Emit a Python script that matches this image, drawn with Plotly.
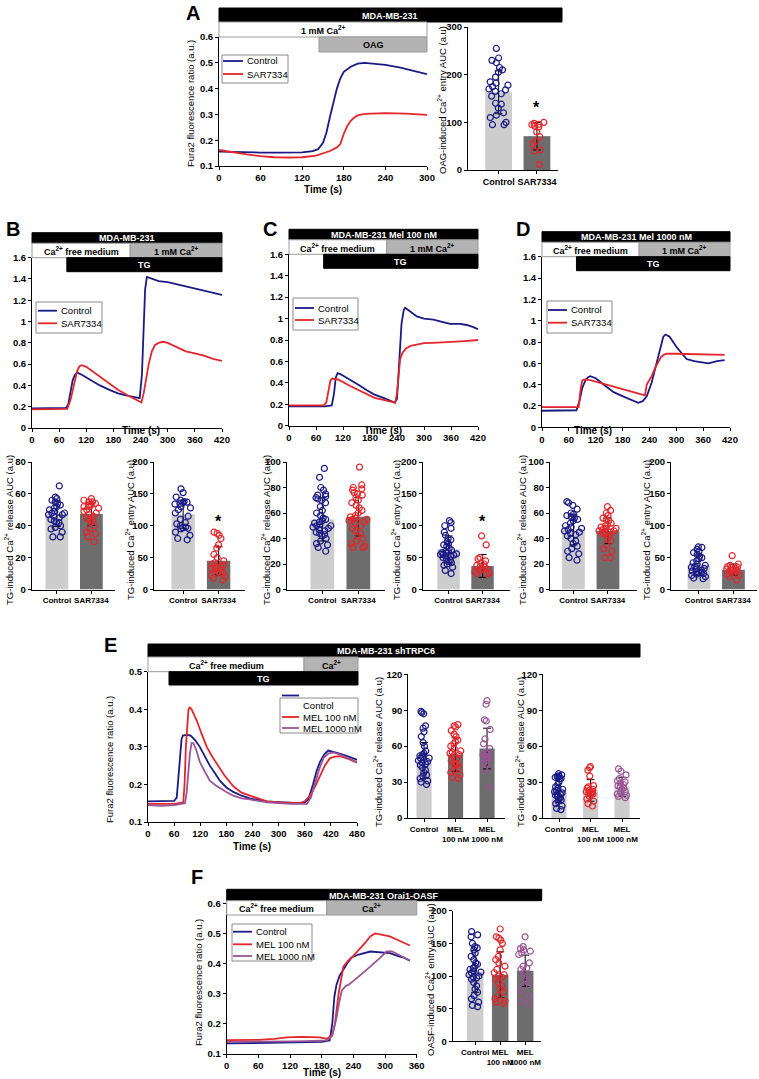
import plotly.graph_objects as go

W, H = 759, 1079
BOLDF = "Liberation Sans, Arial, sans-serif"
REG = "Liberation Sans, Arial, sans-serif"

NAVY = "#1b1a85"
RED = "#e3262b"
PURPLE = "#9a5596"
LGRAY = "#cdcdcd"
DGRAY = "#6d6d6d"

# ---------------- DATA ----------------
# Panel A traces (time s, Fura2 ratio)
A_t_ctrl = [0, 20, 40, 60, 80, 100, 120, 135, 143, 150, 155, 160, 165, 170, 175, 180, 190, 200, 210, 220, 240, 260, 280, 300]
A_ctrl = [0.156, 0.154, 0.153, 0.152, 0.152, 0.152, 0.153, 0.158, 0.165, 0.19, 0.23, 0.29, 0.35, 0.40, 0.44, 0.465, 0.485, 0.497, 0.500, 0.498, 0.492, 0.482, 0.468, 0.456]
A_t_sar = [0, 20, 40, 60, 80, 100, 120, 140, 150, 160, 170, 175, 180, 185, 190, 195, 200, 210, 240, 270, 300]
A_sar = [0.162, 0.153, 0.145, 0.138, 0.134, 0.133, 0.134, 0.140, 0.148, 0.158, 0.172, 0.185, 0.225, 0.255, 0.275, 0.288, 0.296, 0.302, 0.305, 0.303, 0.298]

# Panel B
B_t_ctrl = [0, 40, 75, 80, 85, 90, 95, 100, 110, 130, 150, 170, 190, 210, 230, 238, 243, 247, 250, 254, 265, 280, 300, 320, 340, 360, 380, 400, 420]
B_ctrl = [0.185, 0.185, 0.19, 0.22, 0.33, 0.45, 0.50, 0.52, 0.50, 0.45, 0.40, 0.36, 0.325, 0.305, 0.29, 0.28, 0.50, 1.00, 1.30, 1.42, 1.40, 1.38, 1.37, 1.35, 1.33, 1.31, 1.29, 1.27, 1.25]
B_t_sar = [0, 40, 78, 85, 90, 95, 100, 105, 110, 120, 135, 150, 170, 190, 210, 225, 242, 247, 252, 258, 265, 272, 280, 290, 300, 320, 340, 360, 380, 400, 420]
B_sar = [0.175, 0.175, 0.18, 0.26, 0.36, 0.46, 0.54, 0.58, 0.59, 0.575, 0.53, 0.48, 0.42, 0.36, 0.31, 0.28, 0.24, 0.33, 0.45, 0.60, 0.72, 0.78, 0.80, 0.81, 0.80, 0.76, 0.72, 0.70, 0.68, 0.65, 0.63]

# Panel C
C_t_ctrl = [0, 40, 80, 95, 100, 104, 108, 115, 136, 155, 173, 190, 210, 225, 235, 240, 245, 250, 255, 258, 265, 284, 300, 321, 340, 358, 380, 395, 410, 420]
C_ctrl = [0.18, 0.18, 0.18, 0.19, 0.30, 0.45, 0.49, 0.48, 0.43, 0.38, 0.33, 0.29, 0.26, 0.235, 0.215, 0.25, 0.60, 0.95, 1.08, 1.10, 1.08, 1.02, 1.00, 0.99, 0.97, 0.95, 0.95, 0.94, 0.92, 0.90]
C_t_sar = [0, 40, 78, 83, 88, 92, 96, 110, 136, 155, 173, 190, 210, 225, 236, 240, 244, 247, 252, 260, 270, 285, 300, 330, 360, 390, 420]
C_sar = [0.19, 0.19, 0.19, 0.22, 0.35, 0.42, 0.44, 0.43, 0.37, 0.33, 0.29, 0.26, 0.24, 0.225, 0.215, 0.30, 0.50, 0.62, 0.68, 0.72, 0.745, 0.76, 0.77, 0.775, 0.78, 0.79, 0.80]

# Panel D
D_t_ctrl = [0, 40, 77, 84, 90, 97, 103, 108, 120, 144, 160, 181, 200, 215, 225, 234, 245, 256, 265, 271, 276, 285, 301, 312, 323, 340, 353, 372, 391, 408]
D_ctrl = [0.155, 0.155, 0.16, 0.25, 0.37, 0.44, 0.47, 0.48, 0.46, 0.38, 0.33, 0.29, 0.255, 0.23, 0.245, 0.29, 0.42, 0.60, 0.76, 0.85, 0.87, 0.85, 0.75, 0.69, 0.64, 0.62, 0.61, 0.60, 0.62, 0.63]
D_t_sar = [0, 40, 82, 86, 90, 95, 110, 144, 170, 204, 230, 234, 240, 245, 252, 260, 266, 272, 278, 300, 340, 380, 408]
D_sar = [0.19, 0.19, 0.19, 0.35, 0.44, 0.45, 0.44, 0.40, 0.37, 0.33, 0.30, 0.40, 0.44, 0.48, 0.55, 0.62, 0.66, 0.68, 0.69, 0.69, 0.685, 0.68, 0.68]

# Panel E
E_t_ctrl = [0, 30, 60, 66, 70, 73, 77, 80, 90, 98, 108, 119, 130, 142, 155, 165, 180, 196, 215, 234, 255, 273, 300, 330, 349, 360, 368, 379, 387, 395, 405, 414, 425, 440, 456, 470, 480]
E_ctrl = [0.155, 0.155, 0.156, 0.165, 0.22, 0.28, 0.32, 0.33, 0.332, 0.33, 0.318, 0.30, 0.275, 0.25, 0.228, 0.21, 0.192, 0.18, 0.17, 0.163, 0.158, 0.155, 0.153, 0.152, 0.15, 0.152, 0.16, 0.2, 0.235, 0.26, 0.28, 0.29, 0.287, 0.282, 0.276, 0.27, 0.266]
E_t_m100 = [0, 30, 60, 81, 84, 87, 90, 93, 96, 100, 106, 112, 123, 135, 147, 158, 175, 196, 215, 234, 255, 273, 300, 330, 349, 360, 372, 384, 395, 406, 418, 430, 441, 460, 480]
E_m100 = [0.148, 0.148, 0.148, 0.152, 0.20, 0.30, 0.37, 0.40, 0.405, 0.40, 0.385, 0.37, 0.335, 0.30, 0.275, 0.255, 0.225, 0.195, 0.178, 0.17, 0.162, 0.155, 0.152, 0.151, 0.15, 0.155, 0.17, 0.195, 0.225, 0.25, 0.27, 0.274, 0.275, 0.268, 0.258]
E_t_m1000 = [0, 30, 60, 85, 89, 92, 96, 100, 104, 110, 119, 130, 142, 155, 165, 180, 196, 215, 234, 255, 273, 300, 330, 365, 374, 383, 393, 403, 414, 425, 440, 460, 480]
E_m1000 = [0.145, 0.143, 0.145, 0.15, 0.18, 0.22, 0.28, 0.31, 0.31, 0.295, 0.26, 0.235, 0.21, 0.198, 0.19, 0.18, 0.17, 0.163, 0.16, 0.155, 0.152, 0.15, 0.148, 0.148, 0.165, 0.2, 0.24, 0.27, 0.282, 0.285, 0.28, 0.27, 0.26]

# Panel F traces
F_t_ctrl = [0, 30, 60, 90, 120, 150, 180, 195, 200, 204, 208, 214, 221, 230, 237, 250, 272, 290, 309, 325, 335, 347]
F_ctrl = [0.135, 0.136, 0.137, 0.138, 0.138, 0.139, 0.14, 0.145, 0.2, 0.29, 0.33, 0.36, 0.38, 0.405, 0.42, 0.43, 0.44, 0.438, 0.435, 0.425, 0.42, 0.41]
F_t_m100 = [0, 30, 60, 90, 114, 140, 160, 177, 190, 200, 205, 212, 221, 230, 237, 253, 263, 272, 281, 295, 309, 322, 335, 347]
F_m100 = [0.146, 0.146, 0.147, 0.15, 0.155, 0.157, 0.156, 0.155, 0.15, 0.165, 0.2, 0.3, 0.39, 0.41, 0.42, 0.45, 0.47, 0.49, 0.50, 0.495, 0.49, 0.48, 0.47, 0.46]
F_t_m1000 = [0, 30, 60, 90, 120, 150, 180, 190, 200, 208, 213, 218, 225, 231, 242, 253, 262, 272, 282, 291, 303, 313, 325, 335, 347]
F_m1000 = [0.14, 0.14, 0.141, 0.142, 0.142, 0.143, 0.144, 0.145, 0.16, 0.22, 0.27, 0.31, 0.325, 0.33, 0.345, 0.36, 0.375, 0.39, 0.405, 0.42, 0.44, 0.44, 0.43, 0.42, 0.41]

# Bar charts: means, SD, individual points
A_bar_cats = ["Control", "SAR7334"]
A_bar_mean = [163, 71]
A_bar_sd = [45, 29]
A_pts_ctrl = [255, 235, 230, 225, 215, 210, 205, 195, 185, 182, 178, 175, 170, 168, 165, 160, 155, 140, 138, 130, 120, 115, 110, 100, 95, 95]
A_pts_sar = [100, 98, 96, 95, 92, 90, 80, 70, 60, 55, 42, 40, 12]

B_rel_mean = [47.5, 47.3]
B_rel_sd = [8, 7]
B_rel_ctrl = [65, 58, 57, 56, 55, 54, 53, 52, 51, 50, 49, 48, 48, 47, 47, 46, 45, 44, 43, 42, 42, 40, 39, 38, 36, 33, 33]
B_rel_sar = [57, 56, 55, 55, 54, 53, 53, 52, 52, 51, 50, 49, 48, 47, 46, 45, 44, 43, 42, 40, 38, 36, 35, 33, 30]
B_ent_mean = [118, 45]
B_ent_sd = [22, 22]
B_ent_ctrl = [158, 152, 145, 140, 138, 137, 136, 135, 134, 130, 128, 125, 120, 115, 110, 105, 103, 100, 98, 97, 96, 95, 90, 85, 80, 78]
B_ent_sar = [90, 88, 85, 80, 70, 65, 55, 50, 45, 42, 40, 38, 36, 35, 33, 32, 30, 28, 26, 25, 22, 20, 18, 15]

C_rel_mean = [55, 57]
C_rel_sd = [17, 15]
C_rel_ctrl = [95, 88, 80, 78, 75, 74, 73, 72, 71, 70, 68, 65, 62, 60, 58, 56, 55, 54, 53, 52, 51, 50, 50, 49, 48, 47, 46, 45, 44, 43, 42, 40, 38, 36, 35, 33, 30]
C_rel_sar = [96, 82, 80, 79, 78, 76, 75, 74, 72, 70, 68, 66, 64, 62, 60, 58, 57, 56, 55, 55, 54, 53, 52, 50, 48, 46, 44, 42, 40, 38, 36, 34, 33, 33]
C_ent_mean = [63, 37]
C_ent_sd = [21, 18]
C_ent_ctrl = [108, 105, 100, 96, 90, 85, 80, 78, 75, 72, 70, 68, 65, 62, 60, 60, 58, 57, 56, 55, 55, 54, 53, 52, 50, 48, 46, 44, 42, 40, 38, 35, 30, 25]
C_ent_sar = [84, 70, 50, 48, 45, 42, 40, 38, 36, 35, 33, 32, 30, 28, 26, 25, 24]

D_rel_mean = [47, 46]
D_rel_sd = [12, 10]
D_rel_ctrl = [69, 68, 66, 63, 60, 59, 58, 57, 56, 55, 54, 52, 50, 49, 48, 47, 46, 45, 44, 43, 42, 40, 38, 36, 34, 32, 30, 28, 25, 23]
D_rel_sar = [65, 62, 60, 58, 56, 55, 54, 52, 51, 50, 49, 48, 48, 47, 46, 46, 45, 45, 44, 43, 42, 40, 38, 35, 32, 30, 25, 25]
D_ent_mean = [38, 31]
D_ent_sd = [16, 9]
D_ent_ctrl = [67, 66, 63, 60, 58, 55, 52, 50, 48, 45, 42, 40, 38, 36, 35, 33, 32, 30, 29, 28, 27, 26, 25, 24, 22, 20, 18, 17]
D_ent_sar = [53, 40, 38, 36, 35, 34, 33, 32, 31, 30, 30, 28, 26, 24, 22, 20, 15]

E_cats = ["Control", "MEL<br>100 nM", "MEL<br>1000 nM"]
E1_mean = [48, 53, 58]
E1_sd = [15, 14, 17]
E1_ctrl = [89, 88, 87, 77, 75, 72, 68, 63, 60, 56, 54, 53, 52, 51, 50, 50, 48, 47, 46, 45, 44, 42, 40, 38, 36, 35, 33, 31, 30, 28]
E1_m100 = [78, 77, 76, 73, 70, 68, 65, 64, 62, 60, 58, 56, 55, 54, 53, 52, 50, 48, 46, 45, 44, 42, 40, 38, 36, 34, 33]
E1_m1000 = [98, 95, 82, 81, 74, 66, 62, 58, 55, 54, 53, 52, 51, 50, 50, 48, 46, 42, 40, 26]
E2_mean = [23, 23, 26]
E2_sd = [10, 9, 8]
E2_ctrl = [37, 36, 35, 35, 34, 34, 33, 33, 30, 28, 26, 25, 24, 23, 22, 21, 20, 20, 19, 18, 17, 16, 15, 14, 12, 10, 8, 7]
E2_m100 = [43, 42, 40, 35, 27, 26, 25, 24, 23, 22, 22, 21, 21, 20, 20, 18, 16, 14, 12, 10]
E2_m1000 = [41, 39, 36, 33, 31, 30, 29, 28, 27, 26, 25, 24, 22, 21, 20, 19, 18, 17]

FB_mean = [107, 102, 108]
FB_sd = [32, 35, 24]
FB_ctrl = [168, 163, 160, 150, 145, 143, 140, 135, 130, 125, 120, 118, 115, 112, 110, 108, 106, 105, 102, 100, 98, 97, 95, 90, 85, 80, 75, 70, 65, 60, 55, 53]
FB_m100 = [172, 160, 158, 155, 150, 140, 130, 125, 120, 115, 110, 105, 102, 100, 98, 95, 90, 85, 80, 75, 70, 65, 62, 60, 58]
FB_m1000 = [160, 145, 142, 140, 138, 135, 133, 120, 115, 112, 110, 105, 100, 95, 90, 85, 78, 70, 62, 58]

# ---------------- HELPERS ----------------
def PX(x):
    return x / W

def PY(y):
    return 1 - y / H

fig = go.Figure()
layout = dict(width=W, height=H, margin=dict(l=0, r=0, t=0, b=0, autoexpand=False),
              paper_bgcolor="white", plot_bgcolor="white", showlegend=False)
shapes = []
annots = []

TF = dict(family=BOLDF, size=9.5, color="black", weight="bold")
AXBASE = dict(showline=True, linecolor="black", linewidth=1, ticks="outside", ticklen=3,
              tickwidth=1, tickcolor="black", showgrid=False, zeroline=False, type="linear",
              tickfont=TF, fixedrange=True, tickangle=0, automargin=False)

def names(i):
    if i == 1:
        return "xaxis", "yaxis", "x", "y"
    return f"xaxis{i}", f"yaxis{i}", f"x{i}", f"y{i}"

def add_axes(i, x0, x1, y0, y1, xr, yr, xkw, ykw):
    xa, ya, xn, yn = names(i)
    layout[xa] = dict(AXBASE, domain=[PX(x0), PX(x1)], anchor=yn, range=xr, **xkw)
    layout[ya] = dict(AXBASE, domain=[PY(y1), PY(y0)], anchor=xn, range=yr, **ykw)
    return xn, yn

def rect(x0, y0, x1, y1, fill, line="#9a9a9a"):
    shapes.append(dict(type="rect", xref="paper", yref="paper", x0=PX(x0), x1=PX(x1),
                       y0=PY(y1), y1=PY(y0), fillcolor=fill,
                       line=dict(color=line, width=1), layer="above"))

def hline(x0, x1, y, color):
    shapes.append(dict(type="line", xref="paper", yref="paper", x0=PX(x0), x1=PX(x1),
                       y0=PY(y), y1=PY(y), line=dict(color=color, width=1.8), layer="above"))

def text(x, y, s, size=10, color="black", bold=True, family=BOLDF, angle=0, xanchor="center"):
    annots.append(dict(x=PX(x), y=PY(y), xref="paper", yref="paper", text=s, showarrow=False,
                       font=dict(family=family, size=size, color=color,
                                 weight="bold" if bold else "normal"),
                       textangle=angle, xanchor=xanchor, yanchor="middle"))

def box_label(x0, y0, x1, y1, fill, s, tcolor, tx=None):
    rect(x0, y0, x1, y1, fill, line="#9a9a9a" if fill != "black" else "black")
    text((x0 + x1) / 2 if tx is None else tx, (y0 + y1) / 2 + 0.5, s, size=9, color=tcolor)

def legend_box(x0, y0, x1, y1, items):
    rect(x0, y0, x1, y1, "white", line="#8a8a8a")
    for (ly, color, label, lx0, lx1, tx) in items:
        if color is not None:
            hline(lx0, lx1, ly, color)
        text(tx, ly, label, size=9.5, bold=False, family=REG, xanchor="left")

def line(xn, yn, t, v, color, name):
    fig.add_trace(go.Scatter(x=t, y=v, mode="lines", line=dict(color=color, width=1.8),
                             name=name, xaxis=xn, yaxis=yn, showlegend=False))

def bars(xn, yn, means, sds, colors, width, groups, pcolors):
    n = len(means)
    fig.add_trace(go.Bar(x=list(range(n)), y=means, width=width, marker=dict(color=colors, line=dict(width=0)),
                         error_y=dict(type="data", array=sds, color="black", thickness=1, width=4),
                         xaxis=xn, yaxis=yn, showlegend=False, hoverinfo="skip"))
    for k, (pts, pc) in enumerate(zip(groups, pcolors)):
        fig.add_trace(go.Box(x=[k] * len(pts), y=pts, xaxis=xn, yaxis=yn, width=width * 0.95,
                             boxpoints="all", jitter=0.85, pointpos=0,
                             fillcolor="rgba(0,0,0,0)", line=dict(width=0, color="rgba(0,0,0,0)"),
                             whiskerwidth=0,
                             marker=dict(symbol="circle-open", size=6, color=pc, line=dict(width=1.2, color=pc)),
                             showlegend=False, hoverinfo="y"))

def ytitle(x, y, s, size=9.5):
    text(x, y, s, size=size, bold=False, family=REG, angle=-90)

CA = "Ca<sup>2+</sup>"
CAT_SAR = ["Control", "SAR7334"]

# ---------------- LINE PLOTS ----------------
xn, yn = add_axes(1, 219, 427, 37, 166, [0, 300], [0.1, 0.6],
                  dict(tickvals=[0, 60, 120, 180, 240, 300]),
                  dict(tickvals=[0.1, 0.2, 0.3, 0.4, 0.5, 0.6], ticktext=["0.1", "0.2", "0.3", "0.4", "0.5", "0.6"]))
line(xn, yn, A_t_ctrl, A_ctrl, NAVY, "Control")
line(xn, yn, A_t_sar, A_sar, RED, "SAR7334")

yt16 = [0, 0.2, 0.4, 0.6, 0.8, 1.0, 1.2, 1.4, 1.6]
yt16_t = ["0", "0.2", "0.4", "0.6", "0.8", "1", "1.2", "1.4", "1.6"]
xt420 = [0, 60, 120, 180, 240, 300, 360, 420]
specs = [
    (3, 32, 222, 257.7, 428, B_t_ctrl, B_ctrl, B_t_sar, B_sar, (36, 302, 102, 333, 38, 57, 59, 310.7, 323.3), "MDA-MB-231", (13, 229), "B", 141),
    (4, 289, 478, 254.3, 425.7, C_t_ctrl, C_ctrl, C_t_sar, C_sar, (293, 298, 358, 330, 295, 314, 316, 308, 320), "MDA-MB-231 Mel 100 nM", (270, 229), "C", 383),
    (5, 542, 730, 256.7, 427.3, D_t_ctrl, D_ctrl, D_t_sar, D_sar, (547, 301, 612, 333, 548, 567, 569, 310, 322.7), "MDA-MB-231 Mel 1000 nM", (523, 229), "D", 593),
]
for (i, x0, x1, y0, y1, tc, vc, ts, vs, lg, head, lpos2, L, tx) in specs:
    xn, yn = add_axes(i, x0, x1, y0, y1, [0, 420], [0, 1.6],
                      dict(tickvals=xt420), dict(tickvals=yt16, ticktext=yt16_t))
    line(xn, yn, tc, vc, NAVY, "Control")
    line(xn, yn, ts, vs, RED, "SAR7334")

xn, yn = add_axes(12, 148, 357, 671.7, 822, [0, 480], [0.1, 0.5],
                  dict(tickvals=[0, 60, 120, 180, 240, 300, 360, 420, 480]),
                  dict(tickvals=[0.1, 0.2, 0.3, 0.4, 0.5], ticktext=["0.1", "0.2", "0.3", "0.4", "0.5"]))
line(xn, yn, E_t_ctrl, E_ctrl, NAVY, "Control")
line(xn, yn, E_t_m100, E_m100, RED, "MEL 100 nM")
line(xn, yn, E_t_m1000, E_m1000, PURPLE, "MEL 1000 nM")

fx, fy = add_axes(15, 226.7, 416.7, 903.3, 1054, [0, 360], [0.1, 0.6],
                  dict(tickvals=[0, 60, 120, 180, 240, 300, 360]),
                  dict(tickvals=[0.1, 0.2, 0.3, 0.4, 0.5, 0.6], ticktext=["0.1", "0.2", "0.3", "0.4", "0.5", "0.6"]))
line(fx, fy, F_t_ctrl, F_ctrl, NAVY, "Control")
line(fx, fy, F_t_m100, F_m100, RED, "MEL 100 nM")
line(fx, fy, F_t_m1000, F_m1000, PURPLE, "MEL 1000 nM")

# ---------------- PANEL A decorations + bar ----------------
box_label(219, 8, 562, 22, "black", "MDA-MB-231", "white")
box_label(219, 22, 427, 37, "white", "1 mM " + CA, "black")
box_label(319, 37, 427, 52, "#b3b3b3", "OAG", "black")
legend_box(222, 55, 288, 83, [(61, NAVY, "Control", 223, 243, 245),
                              (74, RED, "SAR7334", 223, 243, 245)])
ytitle(191, 104, "Fura2 fluorescence ratio (a.u.)")
text(323, 190, "Time (s)", size=10)
text(193, 13, "A", size=20, family=REG)

xn, yn = add_axes(2, 468, 558, 27, 170, [-0.8, 1.55], [0, 300],
                  dict(tickvals=[0, 1], ticktext=A_bar_cats, tickfont=dict(TF, size=9)),
                  dict(tickvals=[0, 100, 200, 300]))
bars(xn, yn, A_bar_mean, A_bar_sd, [LGRAY, DGRAY], 0.7, [A_pts_ctrl, A_pts_sar], [NAVY, RED])
annots.append(dict(x=1, y=132, xref=xn, yref=yn, text="*", showarrow=False,
                   font=dict(family=REG, size=16, color="black", weight="bold")))
ytitle(442, 100, "OAG-induced " + CA + " entry AUC (a.u)")

# ---------------- B, C, D decorations ----------------
for (i, x0, x1, y0, y1, tc, vc, ts, vs, lg, head, lpos2, L, tx) in specs:
    bx0, by0, bx1, by1, lx0, lx1, ltx, ly1, ly2 = lg
    legend_box(bx0, by0, bx1, by1, [(ly1, NAVY, "Control", lx0, lx1, ltx),
                                    (ly2, RED, "SAR7334", lx0, lx1, ltx)])
    scale = (x1 - x0) / 420.0
    xw = x0 + 217 * scale
    xtg = x0 + 77 * scale
    top = y0 - 25
    box_label(x0, top, x1, top + 10.5, "black", head, "white")
    box_label(x0, top + 10.5, xw, y0, "white", CA + " free medium", "black")
    box_label(xw, top + 10.5, x1, y0, "#b3b3b3", "1 mM " + CA, "black")
    box_label(xtg, y0, x1, y0 + 14, "black", "TG", "white")
    text(tx, 431, "Time (s)", size=10)
    text(lpos2[0], lpos2[1], L, size=20, family=REG)

# ---------------- B/C/D bar charts ----------------
bar_specs = [
    (6, 31.7, -0.73, 1.68, 34.5, [0, 80], 20, B_rel_mean, B_rel_sd, B_rel_ctrl, B_rel_sar, 9, "release", False),
    (7, 154, -0.82, 1.75, 35.5, [0, 200], 50, B_ent_mean, B_ent_sd, B_ent_ctrl, B_ent_sar, 130, "entry", True),
    (8, 286.7, -0.99, 1.74, 36, [0, 100], 20, C_rel_mean, C_rel_sd, C_rel_ctrl, C_rel_sar, 266, "release", False),
    (9, 422.7, -0.76, 1.81, 34, [0, 200], 50, C_ent_mean, C_ent_sd, C_ent_ctrl, C_ent_sar, 396, "entry", True),
    (10, 550, -0.68, 1.84, 34.5, [0, 100], 20, D_rel_mean, D_rel_sd, D_rel_ctrl, D_rel_sar, 522, "release", False),
    (11, 671, -0.81, 1.68, 34.5, [0, 200], 50, D_ent_mean, D_ent_sd, D_ent_ctrl, D_ent_sar, 646, "entry", False),
]
for (i, ax, r0, r1, unit, yr, dt, mean, sd, pc, ps, tx, kind, star) in bar_specs:
    x0 = ax
    x1 = ax + (r1 - r0) * unit
    xn, yn = add_axes(i, x0, x1, 462, 589.5, [r0, r1], yr,
                      dict(tickvals=[0, 1], ticktext=CAT_SAR, tickfont=dict(TF, size=8)),
                      dict(tickvals=list(range(yr[0], yr[1] + 1, dt))))
    bars(xn, yn, mean, sd, [LGRAY, DGRAY], 0.66, [pc, ps], [NAVY, RED])
    if star:
        annots.append(dict(x=1, y=yr[1] * 0.53, xref=xn, yref=yn, text="*", showarrow=False,
                           font=dict(family=REG, size=16, color="black", weight="bold")))
    ytitle(tx, 530, "TG-induced " + CA + " " + kind + " AUC (a.u)")

# ---------------- PANEL E decorations + bars ----------------
legend_box(280, 698, 358, 733, [(705.5, None, "Control", 282, 299, 301),
                                (717, RED, "MEL 100 nM", 282, 299, 301),
                                (728, PURPLE, "MEL 1000 nM", 282, 299, 301)])
hline(282, 299, 695.5, NAVY)
box_label(148, 644, 640, 657, "black", "MDA-MB-231 shTRPC6", "white", tx=386)
box_label(148, 657, 304, 671.7, "white", CA + " free medium", "black")
box_label(304, 657, 358, 671.7, "#b3b3b3", CA, "black")
box_label(169, 671.7, 358, 685, "black", "TG", "white")
ytitle(109, 760, "Fura2 fluorescence ratio (a.u.)")
text(252, 846, "Time (s)", size=10)
text(111, 645, "E", size=20, family=REG)

for (i, ax, mean, sd, groups, colors, tx) in [
    (13, 408.3, E1_mean, E1_sd, [E1_ctrl, E1_m100, E1_m1000], [LGRAY, DGRAY, DGRAY], 378),
    (14, 543.3, E2_mean, E2_sd, [E2_ctrl, E2_m100, E2_m1000], [LGRAY, LGRAY, LGRAY], 520),
]:
    unit = 31.5
    r0, r1 = -0.5, 2.58
    xn, yn = add_axes(i, ax, ax + (r1 - r0) * unit, 674.3, 818, [r0, r1], [0, 120],
                      dict(tickvals=[0, 1, 2], ticktext=E_cats, tickfont=dict(TF, size=8)),
                      dict(tickvals=[0, 30, 60, 90, 120]))
    bars(xn, yn, mean, sd, colors, 0.48, groups, [NAVY, RED, PURPLE])
    ytitle(tx, 752, "TG-induced " + CA + " release AUC (a.u)")

# ---------------- PANEL F decorations + bars ----------------
legend_box(232, 924, 312, 961, [(931.7, NAVY, "Control", 233, 252, 254),
                                (944.3, RED, "MEL 100 nM", 233, 252, 254),
                                (956, PURPLE, "MEL 1000 nM", 233, 252, 254)])
box_label(226.7, 889.3, 541.7, 900.7, "black", "MDA-MB-231 Orai1-OASF", "white", tx=384)
box_label(226.7, 900.7, 326.7, 915, "white", CA + " free medium", "black")
box_label(326.7, 900.7, 416.7, 915, "#b3b3b3", CA, "black")
ytitle(198, 983, "Fura2 fluorescence ratio (a.u.)")
text(322, 1072, "Time (s)", size=10)
text(197, 877, "F", size=20, family=REG)

r0, r1, unit = -0.9, 2.64, 25
xn, yn = add_axes(16, 452.7, 452.7 + (r1 - r0) * unit, 910.7, 1041.3, [r0, r1], [0, 200],
                  dict(tickvals=[0, 1, 2], ticktext=E_cats, tickfont=dict(TF, size=8)),
                  dict(tickvals=[0, 50, 100, 150, 200]))
bars(xn, yn, FB_mean, FB_sd, [LGRAY, DGRAY, DGRAY], 0.66, [FB_ctrl, FB_m100, FB_m1000], [NAVY, RED, PURPLE])
ytitle(430, 980, "OASF-induced " + CA + " entry AUC (a.u)")

layout["shapes"] = shapes
layout["annotations"] = annots
layout["boxmode"] = "overlay"
fig.update_layout(**layout)
fig.write_html("out.html", config={"displayModeBar": False},
               post_script="document.body.style.margin='0px';document.body.style.padding='0px';")
